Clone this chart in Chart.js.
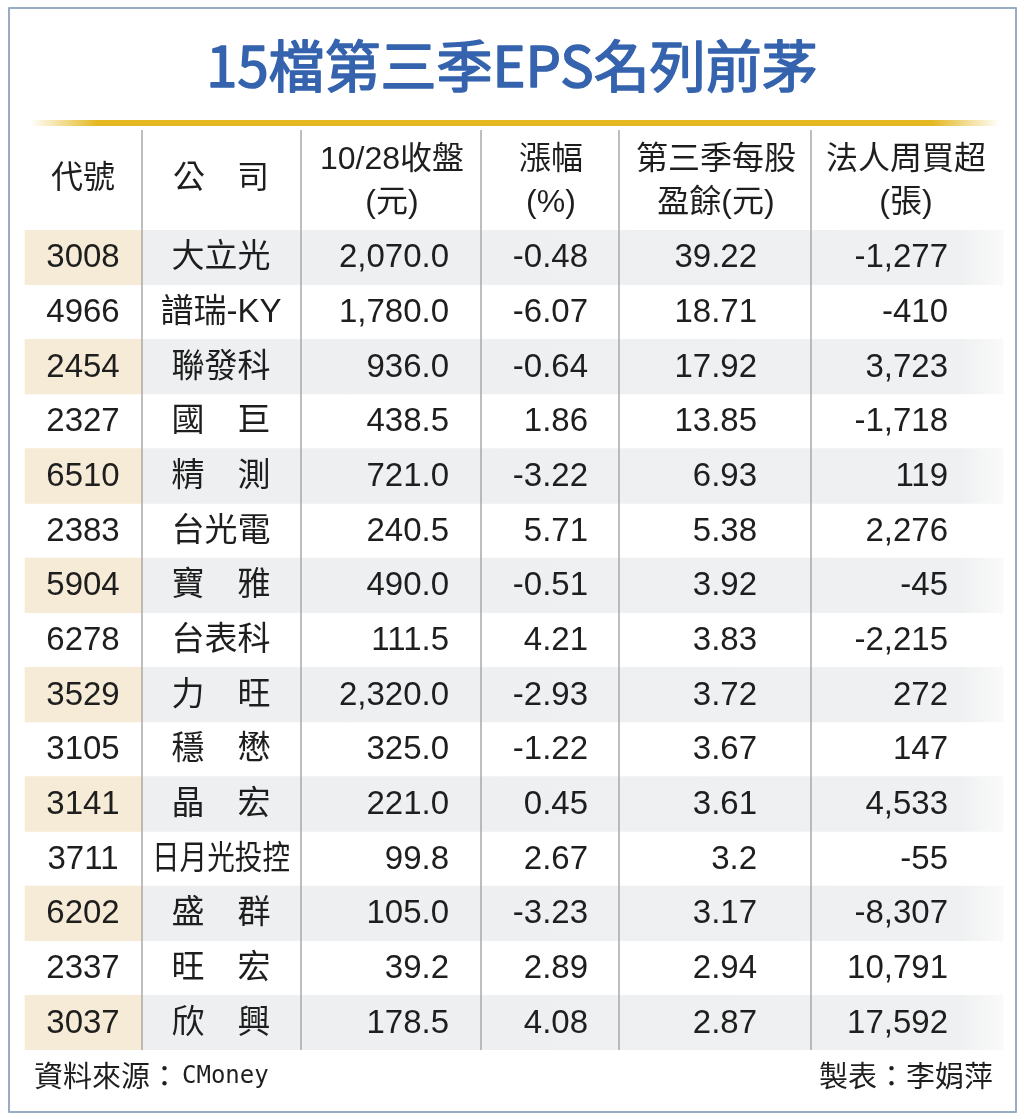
<!DOCTYPE html>
<html>
<head>
<meta charset="utf-8">
<script src="https://cdn.jsdelivr.net/npm/chart.js@4"></script>
<style>
  html, body { margin: 0; padding: 0; background: #ffffff; }
  #wrap { width: 1024px; height: 1119px; }
</style>
</head>
<body>
<div id="wrap"><canvas id="c" width="1024" height="1119"></canvas></div>
<script>
// ---------- data ----------
const title = '15檔第三季EPS名列前茅';
const headers = [
  ['代號'],
  ['公\u3000司'],
  ['10/28收盤', '(元)'],
  ['漲幅', '(%)'],
  ['第三季每股', '盈餘(元)'],
  ['法人周買超', '(張)']
];
const codes = ['3008','4966','2454','2327','6510','2383','5904','6278','3529','3105','3141','3711','6202','2337','3037'];
const companies = ['大立光','譜瑞-KY','聯發科','國\u3000巨','精\u3000測','台光電','寶\u3000雅','台表科','力\u3000旺','穩\u3000懋','晶\u3000宏','日月光投控','盛\u3000群','旺\u3000宏','欣\u3000興'];
const closePrice = ['2,070.0','1,780.0','936.0','438.5','721.0','240.5','490.0','111.5','2,320.0','325.0','221.0','99.8','105.0','39.2','178.5'];
const changePct = ['-0.48','-6.07','-0.64','1.86','-3.22','5.71','-0.51','4.21','-2.93','-1.22','0.45','2.67','-3.23','2.89','4.08'];
const epsQ3 = ['39.22','18.71','17.92','13.85','6.93','5.38','3.92','3.83','3.72','3.67','3.61','3.2','3.17','2.94','2.87'];
const netBuy = ['-1,277','-410','3,723','-1,718','119','2,276','-45','-2,215','272','147','4,533','-55','-8,307','10,791','17,592'];
const sourceNote = '資料來源：';
const sourceName = 'CMoney';
const creditNote = '製表：李娟萍';

// ---------- layout (x in x-scale units = pixels) ----------
const L = {
  stripeLeft: 25, firstSep: 142, stripeRight: 1003,
  seps: [142, 301, 481, 619, 811],
  cols: [
    { x: 83,  align: 'center' },
    { x: 221, align: 'center', maxW: 138 },
    { x: 449, align: 'right', hx: 392 },
    { x: 588, align: 'right', hx: 551 },
    { x: 757, align: 'right', hx: 716 },
    { x: 948, align: 'right', hx: 906 }
  ]
};
const FONT = "'Liberation Sans', 'Noto Sans CJK TC', sans-serif";
const TEXT = '#1e1e1e';

const columns = [codes, companies, closePrice, changePct, epsQ3, netBuy];

const isStriped = codes.map((_, i) => i % 2 === 0);

const tablePlugin = {
  id: 'tablePlugin',
  beforeDraw(chart) {
    const ctx = chart.ctx;
    ctx.save();
    ctx.fillStyle = '#ffffff';
    ctx.fillRect(0, 0, chart.width, chart.height);
    ctx.restore();
  },
  afterDatasetsDraw(chart) {
    const ctx = chart.ctx;
    const xs = chart.scales.x, ys = chart.scales.y;
    const area = chart.chartArea;
    ctx.save();

    // title (regular weight thickened slightly to a medium look)
    ctx.fillStyle = '#3563ae';
    ctx.strokeStyle = '#3563ae';
    ctx.lineWidth = 1.6;
    ctx.lineJoin = 'round';
    ctx.font = "normal 56px 'Noto Sans CJK TC', sans-serif";
    ctx.textAlign = 'center';
    ctx.textBaseline = 'middle';
    ctx.fillText(title, xs.getPixelForValue(512), 66);
    ctx.strokeText(title, xs.getPixelForValue(512), 66);

    // gold rule
    const g = ctx.createLinearGradient(xs.getPixelForValue(30), 0, xs.getPixelForValue(1000), 0);
    g.addColorStop(0, 'rgba(228,184,32,0)');
    g.addColorStop(0.07, 'rgba(228,184,32,1)');
    g.addColorStop(0.93, 'rgba(228,184,32,1)');
    g.addColorStop(1, 'rgba(228,184,32,0)');
    ctx.fillStyle = g;
    ctx.fillRect(xs.getPixelForValue(30), 120, xs.getPixelForValue(1000) - xs.getPixelForValue(30), 6);

    // column separators
    ctx.strokeStyle = '#a9a9a9';
    ctx.lineWidth = 1.5;
    L.seps.forEach(s => {
      const px = xs.getPixelForValue(s);
      ctx.beginPath();
      ctx.moveTo(px, 130);
      ctx.lineTo(px, area.bottom);
      ctx.stroke();
    });

    // header
    ctx.fillStyle = TEXT;
    ctx.font = '32px ' + FONT;
    ctx.textAlign = 'center';
    headers.forEach((h, c) => {
      const cx = xs.getPixelForValue(L.cols[c].hx !== undefined ? L.cols[c].hx : L.cols[c].x);
      if (h.length === 1) {
        ctx.fillText(h[0], cx, 179);
      } else {
        ctx.fillText(h[0], cx, 160);
        ctx.fillText(h[1], cx, 203);
      }
    });

    // cells
    ctx.font = '33px ' + FONT;
    columns.forEach((col, c) => {
      const spec = L.cols[c];
      ctx.textAlign = spec.align;
      const px = xs.getPixelForValue(spec.x);
      col.forEach((v, i) => {
        const py = ys.getPixelForValue(i) + 1;
        if (spec.maxW) ctx.fillText(v, px, py, spec.maxW);
        else ctx.fillText(v, px, py);
      });
    });

    // footer
    ctx.textAlign = 'left';
    ctx.font = "29px 'Noto Sans CJK TC', sans-serif";
    ctx.fillText(sourceNote, 34, 1076);
    const w = ctx.measureText(sourceNote).width;
    ctx.font = "24px 'DejaVu Sans Mono', monospace";
    ctx.fillText(sourceName, 34 + w + 3, 1077);
    ctx.textAlign = 'right';
    ctx.font = "29px 'Noto Sans CJK TC', sans-serif";
    ctx.fillText(creditNote, 993, 1076);

    // outer border
    ctx.strokeStyle = '#9aabc4';
    ctx.lineWidth = 2;
    ctx.strokeRect(9, 8, 1007, 1104);

    ctx.restore();
  }
};

const ctx = document.getElementById('c').getContext('2d');
const grayGrad = ctx.createLinearGradient(L.firstSep, 0, L.stripeRight, 0);
grayGrad.addColorStop(0, '#eeeff0');
grayGrad.addColorStop(0.95, '#eff0f1');
grayGrad.addColorStop(1, 'rgba(240,241,242,0.4)');

new Chart(ctx, {
  type: 'bar',
  data: {
    labels: codes,
    datasets: [
      {
        label: 'codeStripe',
        data: isStriped.map(s => s ? [L.stripeLeft, L.firstSep] : null),
        backgroundColor: '#f5ebd7',
        grouped: false,
        barPercentage: 1,
        categoryPercentage: 1,
        borderWidth: 0,
        borderSkipped: false
      },
      {
        label: 'rowStripe',
        data: isStriped.map(s => s ? [L.firstSep, L.stripeRight] : null),
        backgroundColor: grayGrad,
        grouped: false,
        barPercentage: 1,
        categoryPercentage: 1,
        borderWidth: 0,
        borderSkipped: false
      }
    ]
  },
  options: {
    indexAxis: 'y',
    responsive: false,
    animation: false,
    devicePixelRatio: 1,
    layout: { padding: { top: 230, bottom: 69, left: 0, right: 0 } },
    plugins: { legend: { display: false }, tooltip: { enabled: false }, title: { display: false } },
    scales: {
      x: { type: 'linear', min: 0, max: 1024, display: false },
      y: { type: 'category', display: false, offset: true }
    }
  },
  plugins: [tablePlugin]
});
</script>
</body>
</html>
